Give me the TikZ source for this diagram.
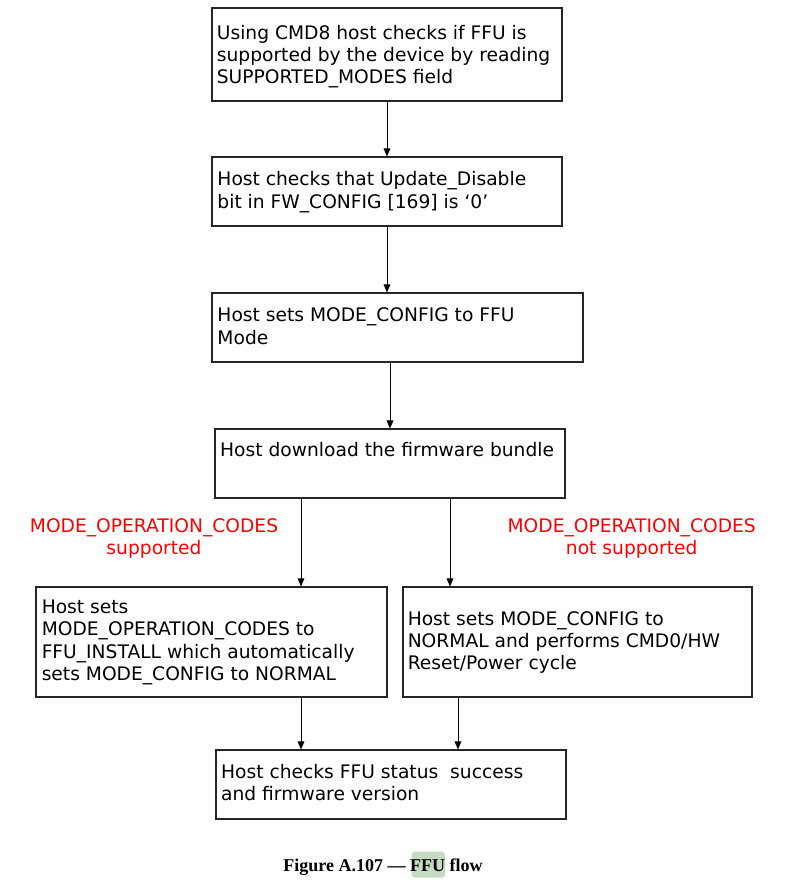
\documentclass[tikz,border=0pt]{standalone}
\usepackage{fontspec}
\setmainfont{DejaVu Sans}
\newfontfamily\capfont{Liberation Serif}
\usetikzlibrary{arrows.meta,fit}
\definecolor{hlgreen}{RGB}{197,220,195}
\definecolor{labred}{RGB}{255,0,0}
\tikzset{
  box/.style={draw=black!85, line width=0.8pt, inner sep=0pt},
  txt/.style={anchor=north west, inner sep=0pt, align=left,
    font=\fontsize{14pt}{16.7pt}\selectfont},
  redlab/.style={anchor=north, inner sep=0pt, align=center, text=labred,
    font=\fontsize{14pt}{15pt}\selectfont},
  arr/.style={draw=black, line width=0.75pt, -{Triangle[length=6pt,width=5pt]}},
  captxt/.style={anchor=base, inner sep=0pt, font=\capfont\bfseries\fontsize{13.5pt}{16pt}\selectfont}
}
\begin{document}
\begin{tikzpicture}[x=0.75pt,y=-0.75pt]
\useasboundingbox (0,0) rectangle (797,883);
% boxes
\node[box, fit={(212,8)(562,101)}] (b1) {};
\node[box, fit={(212,157)(562,226)}] (b2) {};
\node[box, fit={(212,293)(583,362)}] (b3) {};
\node[box, fit={(215,429)(565,498)}] (b4) {};
\node[box, fit={(36,587)(387,697)}] (b5) {};
\node[box, fit={(403,587)(752,697)}] (b6) {};
\node[box, fit={(216,750)(566,819)}] (b7) {};
% texts
\node[txt] (t1) at (216.6,23.4) {\strut Using CMD8 host checks if FFU is\\supported by the device by reading\\SUPPORTED\_MODES field};
\node[txt] (t2) at (217.2,170.1) {\strut Host checks that Update\_Disable\\bit in FW\_CONFIG [169] is ‘0’};
\node[txt] (t3) at (217.2,306.1) {\strut Host sets MODE\_CONFIG to FFU\\Mode};
\node[txt] (t4) at (219.9,441.1) {\strut Host download the firmware bundle};
\node[txt] (t5) at (41.5,597.7) {\strut Host sets\\MODE\_OPERATION\_CODES to\\FFU\_INSTALL which automatically\\sets MODE\_CONFIG to NORMAL};
\node[txt] (t6) at (407.5,609.4) {\strut Host sets MODE\_CONFIG to\\NORMAL and performs CMD0/HW\\Reset/Power cycle};
\node[txt] (t7) at (220.9,762.4) {\strut Host checks FFU status~ success\\and firmware version};
% red labels
\node[redlab] (l1) at (154,518.3) {\strut MODE\_OPERATION\_CODES\\supported};
\node[redlab] (l2) at (631.7,518.3) {\strut MODE\_OPERATION\_CODES\\not supported};
% arrow x positions
\coordinate (x1) at (387,0);
\coordinate (x3) at (390,0);
\coordinate (x4) at (301,0);
\coordinate (x5) at (450,0);
\coordinate (x7) at (458,0);
\draw[arr] (b1.south -| x1) -- (b2.north -| x1);
\draw[arr] (b2.south -| x1) -- (b3.north -| x1);
\draw[arr] (b3.south -| x3) -- (b4.north -| x3);
\draw[arr] (b4.south -| x4) -- (b5.north -| x4);
\draw[arr] (b4.south -| x5) -- (b6.north -| x5);
\draw[arr] (b5.south -| x4) -- (b7.north -| x4);
\draw[arr] (b6.south -| x7) -- (b7.north -| x7);
% caption
\fill[hlgreen, rounded corners=2.5pt] (411.7,851.7) rectangle (445,877.7);
\node[captxt] (cap) at (383,871.7) {Figure A.107 — FFU flow};
\end{tikzpicture}
\end{document}
